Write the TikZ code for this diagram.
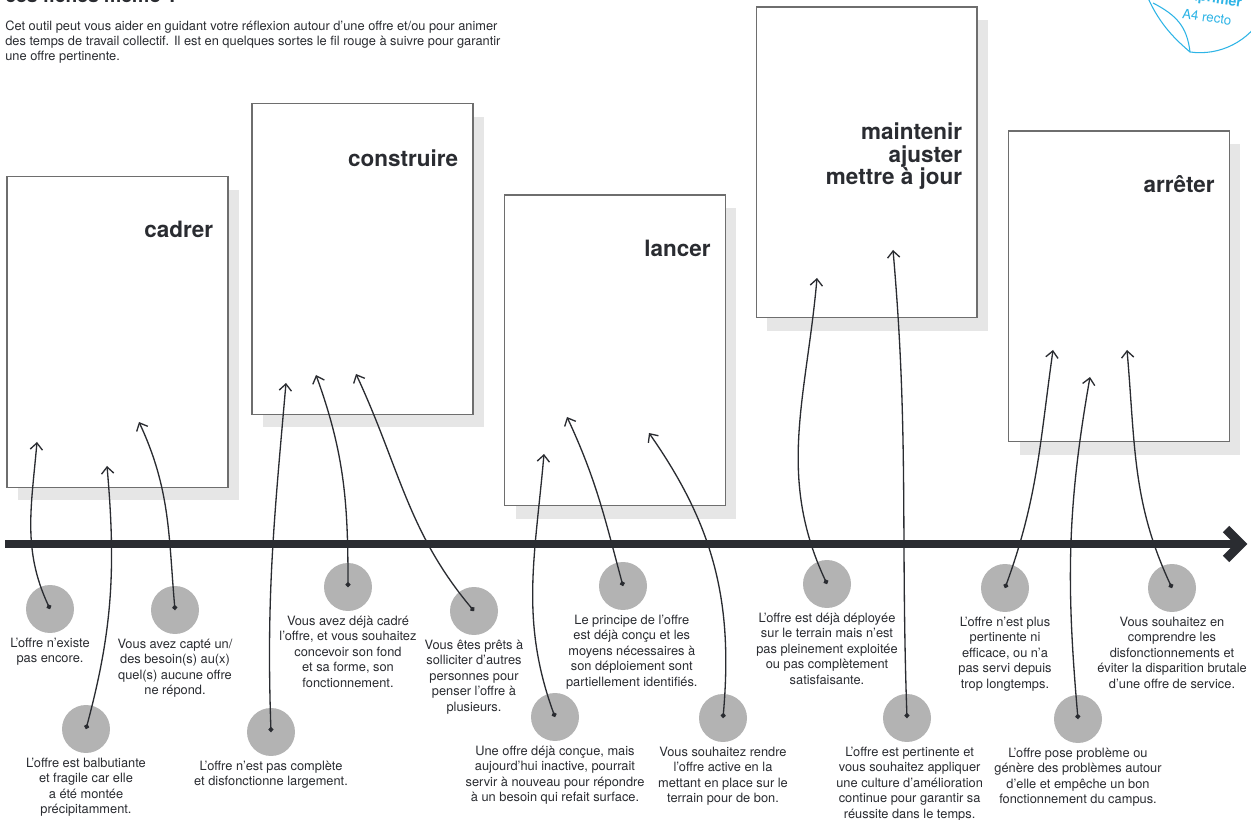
\documentclass[tikz,border=0pt]{standalone}
\usepackage{fontspec}
\setmainfont{TeX Gyre Heros}
\usepackage{tikz}
\usetikzlibrary{positioning,shadows,arrows.meta}

\definecolor{ink}{HTML}{2A2C31}
\definecolor{spotgray}{HTML}{B3B3B3}
\definecolor{cardline}{HTML}{6E6E6E}
\definecolor{shadowgray}{HTML}{E6E6E6}
\definecolor{stickercyan}{HTML}{2DB4E6}

\begin{document}
\begin{tikzpicture}[x = .02cm, y = .02cm,
    card/.style = {draw = cardline, line width = .6pt, fill = white, inner sep = 0,
        minimum width = 4.42cm, minimum height = 6.22cm,
        drop shadow = {shadow xshift = .22cm, shadow yshift = -.26cm, fill = shadowgray, opacity = 1}},
    title/.style = {anchor = east, align = right, text = ink, inner sep = 0,
        font = \bfseries\fontsize{12.8}{12.8}\selectfont},
    spot/.style = {circle, fill = spotgray, minimum size = .96cm, inner sep = 0},
    note/.style = {align = center, text = ink, inner sep = 0,
        font = \fontsize{7.3}{8.8}\selectfont},
    conn/.style = {draw = ink, line width = .75pt,
        arrows = {Circle[length = 2.8pt]-Straight Barb[length = 3.8pt, width = 7pt]}},
    bar/.style = {draw = ink, line width = .18cm}]

    \useasboundingbox (0,0) rectangle (1251,-820);
    \fill[white] (0,0) rectangle (1251,-820);

    % cut off at the top of the page
    \begin{scope}
        \clip (0,0) rectangle (1251,-820);
        \node[anchor = base west, text = ink, inner sep = 0, font = \bfseries\fontsize{11}{11}\selectfont] (head) at (5,-2.5) {ces fiches mémo ?};
        \draw[stickercyan, line width = .6pt] (1148,2) .. controls (1160,-25) and (1176,-40) .. (1190,-52)
            arc[start angle = 262, end angle = 332, radius = 72];
        \draw[stickercyan, line width = .6pt] (1153,-3) .. controls (1176,-15) and (1187,-26) .. (1190,-52);
        \node[rotate = -8, text = stickercyan, inner sep = 0, font = \bfseries\fontsize{8}{8}\selectfont] (print) at (1212,1) {imprimer};
        \node[rotate = -8, text = stickercyan, inner sep = 0, font = \fontsize{7.6}{7.6}\selectfont] (recto) at (1207,-17) {A4 recto};
    \end{scope}

    \node[anchor = north west, align = left, text = ink, inner sep = 0, font = \fontsize{7.3}{8.3}\selectfont] (intro) at (5,-21)
        {Cet outil peut vous aider en guidant votre réflexion autour d’une offre et/ou pour animer\\
         des temps de travail collectif. Il est en quelques sortes le fil rouge à suivre pour garantir\\
         une offre pertinente.};

    % the five stages
    \node[card] (cadrer) at (117.5,-332) {};
    \node[card] (construire) at (362.5,-259) {};
    \node[card] (lancer) at (615,-350.5) {};
    \node[card] (maintenir) at (866.5,-162.5) {};
    \node[card] (arreter) at (1119,-286.5) {};
    \node[title] (cadrer-t) at ([shift = {(-15,-53)}]cadrer.north east) {cadrer};
    \node[title] (construire-t) at ([shift = {(-15,-55)}]construire.north east) {construire};
    \node[title] (lancer-t) at ([shift = {(-15,-54)}]lancer.north east) {lancer};
    \node[title] (maintenir-t) at ([shift = {(-15,-150)}]maintenir.north east) {maintenir\\ajuster\\mettre à jour};
    \node[title] (arreter-t) at ([shift = {(-15,-54)}]arreter.north east) {arrêter};

    % time line
    \coordinate (tl-a) at (5,-544);
    \coordinate (tl-b) at (1241,-544);
    \draw[bar] (tl-a) -- (tl-b);
    \draw[bar, line join = miter] ([shift = {(-15,15)}]tl-b) -- (tl-b) -- ([shift = {(-15,-15)}]tl-b);

    % situations
    \node[spot] (p1) at (50,-609) {};
    \node[spot] (p2) at (86,-729) {};
    \node[spot] (p3) at (175,-610) {};
    \node[spot] (p4) at (271,-732) {};
    \node[spot] (p5) at (348,-587) {};
    \node[spot] (p6) at (474,-611) {};
    \node[spot] (p7) at (555,-717) {};
    \node[spot] (p8) at (623,-586) {};
    \node[spot] (p9) at (723,-718) {};
    \node[spot] (p10) at (827,-584) {};
    \node[spot] (p11) at (907,-718) {};
    \node[spot] (p12) at (1005,-588) {};
    \node[spot] (p13) at (1078,-719) {};
    \node[spot] (p14) at (1172,-588) {};

    \node[note, below = 2.5pt of p1] (t1) {L'offre n'existe\\pas encore.};
    \node[note, below = 2.5pt of p2] (t2) {L'offre est balbutiante\\et fragile car elle\\a été montée\\précipitamment.};
    \node[note, below = 2.5pt of p3] (t3) {Vous avez capté un/\\des besoin(s) au(x)\\quel(s) aucune offre\\ne répond.};
    \node[note, below = 2.5pt of p4] (t4) {L'offre n'est pas complète\\et disfonctionne largement.};
    \node[note, below = 2.5pt of p5] (t5) {Vous avez déjà cadré\\l'offre, et vous souhaitez\\concevoir son fond\\et sa forme, son\\fonctionnement.};
    \node[note, below = 2.5pt of p6] (t6) {Vous êtes prêts à\\solliciter d'autres\\personnes pour\\penser l'offre à\\plusieurs.};
    \node[note, below = 2.5pt of p7] (t7) {Une offre déjà conçue, mais\\aujourd'hui inactive, pourrait\\servir à nouveau pour répondre\\à un besoin qui refait surface.};
    \node[note, below = 2.5pt of p8, xshift = 5pt] (t8) {Le principe de l’offre\\est déjà conçu et les\\moyens nécessaires à\\son déploiement sont\\partiellement identifiés.};
    \node[note, below = 2.5pt of p9] (t9) {Vous souhaitez rendre\\l'offre active en la\\mettant en place sur le\\terrain pour de bon.};
    \node[note, below = 2.5pt of p10] (t10) {L'offre est déjà déployée\\sur le terrain mais n'est\\pas pleinement exploitée\\ou pas complètement\\satisfaisante.};
    \node[note, below = 2.5pt of p11, xshift = 1.5pt] (t11) {L'offre est pertinente et\\vous souhaitez appliquer\\une culture d'amélioration\\continue pour garantir sa\\réussite dans le temps.};
    \node[note, below = 2.5pt of p12] (t12) {L'offre n'est plus\\pertinente ni\\efficace, ou n'a\\pas servi depuis\\trop longtemps.};
    \node[note, below = 2.5pt of p13] (t13) {L'offre pose problème ou\\génère des problèmes autour\\d'elle et empêche un bon\\fonctionnement du campus.};
    \node[note, below = 2.5pt of p14] (t14) {Vous souhaitez en\\comprendre les\\disfonctionnements et\\éviter la disparition brutale\\d’une offre de service.};

    % where each situation points to
    \coordinate (a1) at (37,-442);
    \coordinate (a2) at (107,-466);
    \coordinate (a3) at (139,-422);
    \coordinate (a4) at (286,-383);
    \coordinate (a5) at (316,-375);
    \coordinate (a6) at (356,-374);
    \coordinate (a7) at (544,-454);
    \coordinate (a8) at (567,-417);
    \coordinate (a9) at (649,-433);
    \coordinate (a10) at (817,-278);
    \coordinate (a11) at (893,-250);
    \coordinate (a12) at (1053,-350);
    \coordinate (a13) at (1090,-377);
    \coordinate (a14) at (1127,-350);

    \draw[conn] (p1.center) to[out = 115, in = -95] (a1);
    \draw[conn] (p2.center) to[out = 75, in = -85] (a2);
    \draw[conn] (p3.center) to[out = 95, in = -65] (a3);
    \draw[conn] (p4.center) to[out = 92, in = -95] (a4);
    \draw[conn] (p5.center) to[out = 90, in = -70] (a5);
    \draw[conn] (p6.center) to[out = 130, in = -65] (a6);
    \draw[conn] (p7.center) to[out = 110, in = -95] (a7);
    \draw[conn] (p8.center) to[out = 105, in = -65] (a8);
    \draw[conn] (p9.center) to[out = 85, in = -55] (a9);
    \draw[conn] (p10.center) to[out = 115, in = -95] (a10);
    \draw[conn] (p11.center) to[out = 92, in = -85] (a11);
    \draw[conn] (p12.center) to[out = 70, in = -98] (a12);
    \draw[conn] (p13.center) to[out = 95, in = -100] (a13);
    \draw[conn] (p14.center) to[out = 115, in = -85] (a14);
\end{tikzpicture}
\end{document}
